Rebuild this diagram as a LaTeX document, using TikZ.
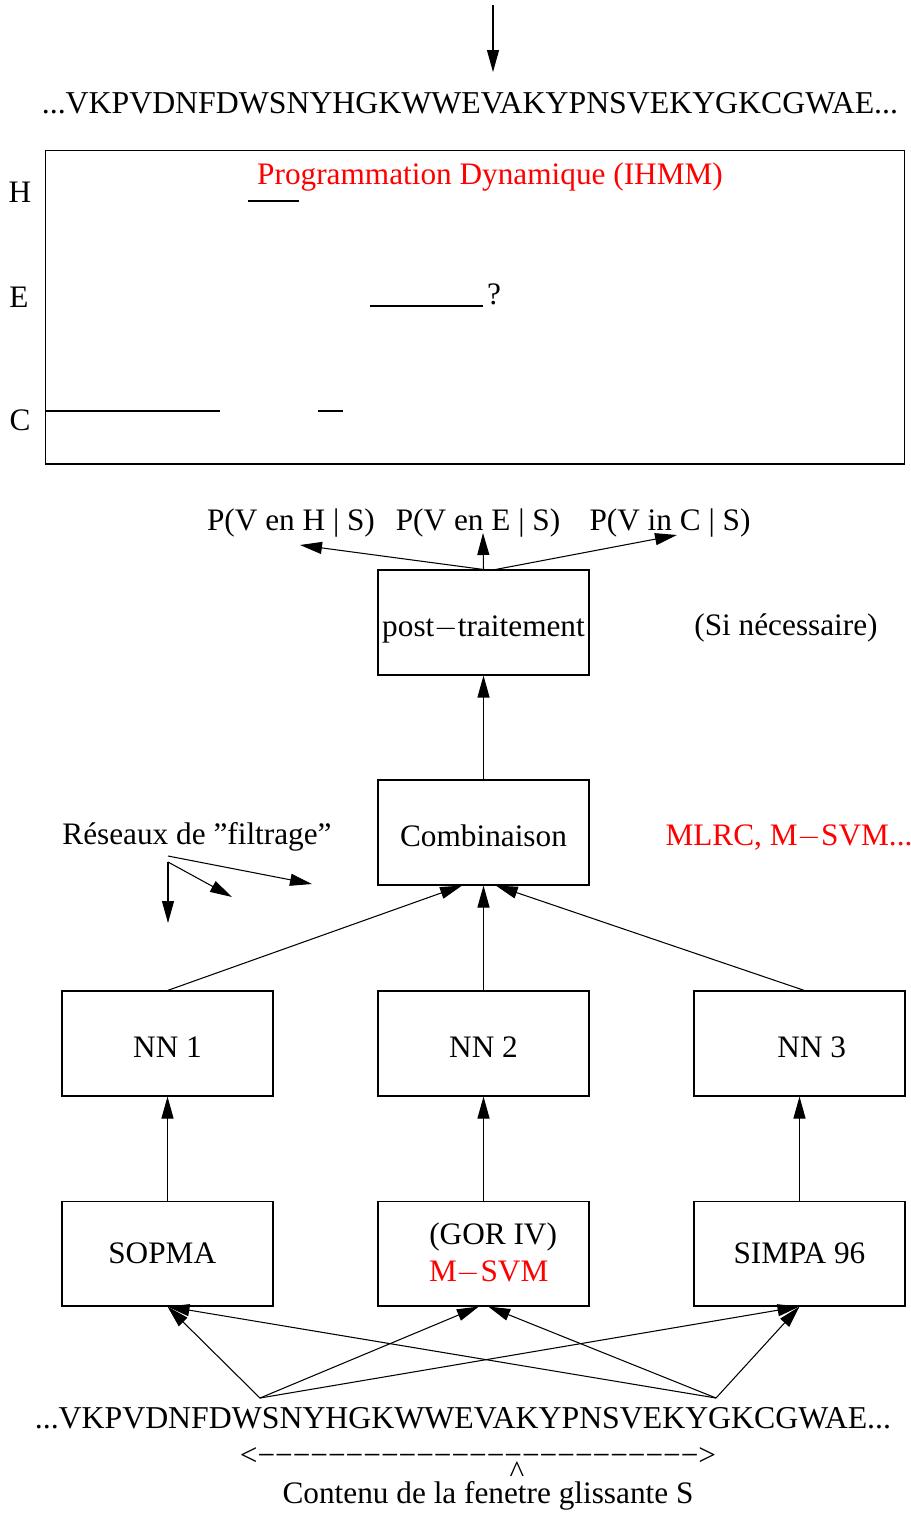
\documentclass[tikz,border=0pt]{standalone}
\usepackage{fontspec}
\setmainfont{Liberation Serif}
\usepackage{tikz}
\usetikzlibrary{shapes,arrows,arrows.meta,positioning}

\begin{document}
\begin{tikzpicture}[x=0.02cm, y=-0.02cm, font=\fontsize{17.8}{21}\selectfont]
			\tikzstyle{Box}		= [rectangle, draw, line width=0.6pt, minimum width=4.22cm, minimum height=2.1cm, inner sep=0pt, align=center]
			\tikzstyle{Low}		= [text height=18.5pt, text depth=3pt]
			\tikzstyle{Label}	= [inner sep=0pt]
			\tikzstyle{Seq}		= [inner sep=0pt, font=\fontsize{18.1}{21}\selectfont]
			\tikzstyle{Line}	= [line width=0.6pt]
			\tikzstyle{Arrow}	= [line width=0.6pt, -{Triangle[length=4.4mm, width=2.4mm]}]
			\tikzstyle{Red}		= [red]

			\useasboundingbox (0,0) rectangle (911,1519);

			% sequence on top and the dynamic programming frame
			\coordinate (in) at (493,5);
			\node (seqtop) at (470,103) [Seq] {...VKPVDNFDWSNYHGKWWEVAKYPNSVEKYGKCGWAE...};
			\draw [Arrow] (in) to (493,72);
			\node (frame) at (475,307) [rectangle, draw, line width=0.6pt, minimum width=17.2cm, minimum height=6.28cm] {};
			\node (title) at (490,177) [Label, Red] {Programmation Dynamique (IHMM)};
			\node (lH) at (20,192) [Label] {H};
			\node (lE) at (19,297) [Label] {E};
			\node (lC) at (20,420) [Label] {C};
			\node (quest) at (494,294) [Label] {?};
			\draw [Line] (248,201) -- (299,201);
			\draw [Line] (370,306) -- (483,306);
			\draw [Line] (45,411) -- (220,411);
			\draw [Line] (318,411) -- (343,411);

			% probabilities
			\node (pH) at (291,523) [Label] {P(V en H | S)};
			\node (pE) at (478,523) [Label] {P(V en E | S)};
			\node (pC) at (670,523) [Label] {P(V in C | S)};
			\coordinate (tH) at (300,545);
			\coordinate (tE) at (483,533);
			\coordinate (tC) at (677,535);

			% boxes
			\node (post) at (483.5,622.5) [Box, Low] {post$-$traitement};
			\node (comb) at (483.5,832.5) [Box, Low] {Combinaison};
			\node (nn1) at (167.5,1043.5) [Box, Low] {NN 1};
			\node (nn2) at (483.5,1043.5) [Box, Low] {NN 2};
			\node (nn3) at (799.5,1043.5) [Box, Low] {\hspace*{14pt}NN 3};
			\node (sopma) at (167.5,1253.5) [Box] {SOPMA\hspace*{6pt}};
			\node (gor) at (483.5,1253.5) [Box] {\hspace*{11pt}(GOR IV)\\\hspace*{6pt}{\color{red}M$-$SVM}};
			\node (simpa) at (799.5,1253.5) [Box] {SIMPA 96};

			\node (sinec) at (786,628) [Label] {(Si nécessaire)};
			\node (mlrc) at (789,838) [Label, Red] {MLRC, M$-$SVM...};
			\node (filt) at (197,837) [Label] {Réseaux de \symbol{34}filtrage\symbol{34}};

			\draw [Arrow] (post.north) to (tH);
			\draw [Arrow] (post.north) to (tE);
			\draw [Arrow] ([xshift=12*0.02cm]post.north) to (tC);
			\draw [Arrow] (comb) to (post);
			\draw [Arrow] (nn1.north) to (comb.248);
			\draw [Arrow] (nn2) to (comb);
			\draw [Arrow] ([xshift=5*0.02cm]nn3.north) to (comb.283);
			\draw [Arrow] (sopma) to (nn1);
			\draw [Arrow] (gor) to (nn2);
			\draw [Arrow] (simpa) to (nn3);

			% filtering arrows
			\coordinate (f1) at (168,856);
			\coordinate (f2) at (168,862);
			\draw [Arrow] (f1) to (312,884);
			\draw [Arrow] (f2) to (232,897);
			\draw [Arrow] (f2) to (168,923);

			% sliding window
			\node (seqbot) at (463,1418) [Seq] {...VKPVDNFDWSNYHGKWWEVAKYPNSVEKYGKCGWAE...};
			\coordinate (wL) at (260,1398);
			\coordinate (wR) at (716,1398);
			\draw [Arrow] (wL) to (sopma.south);
			\draw [Arrow] (wL) to (gor.265);
			\draw [Arrow] (wL) to (simpa.south);
			\draw [Arrow] (wR) to (sopma.south);
			\draw [Arrow] (wR) to (gor.275);
			\draw [Arrow] (wR) to (simpa.south);
			\node (width) at (478,1457) [Label] {<−−−−−−−−−−−−−−−−−−−−−−−−−>};
			\node (hat) at (517,1472) [Label] {\textasciicircum};
			\node (window) at (488,1496) [Label] {Contenu de la fenetre glissante S};
		\end{tikzpicture}
\end{document}
